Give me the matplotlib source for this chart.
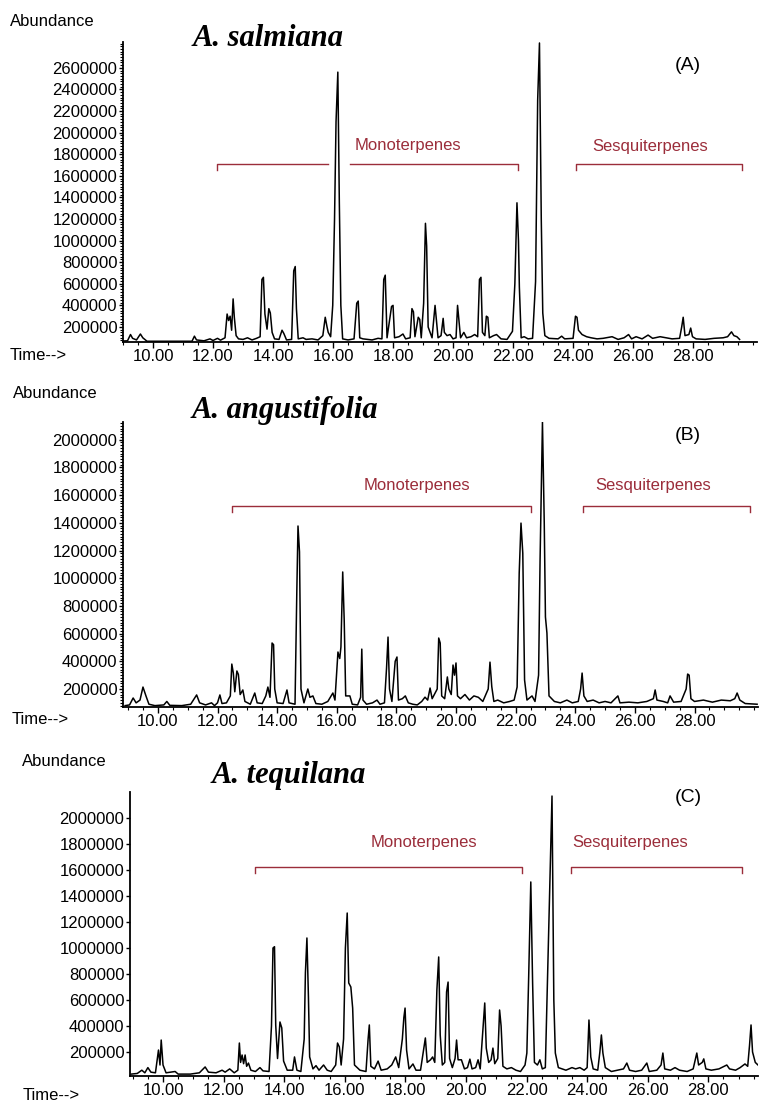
import matplotlib
matplotlib.use("Agg")
import matplotlib.pyplot as plt
from matplotlib.ticker import FixedLocator, MultipleLocator, FormatStrFormatter

plt.rcParams['font.family'] = ['Liberation Sans', 'DejaVu Sans']

# chromatogram traces: (retention time in min, abundance)
trace_a = [
    (8.97, 70000), (9.15, 72000), (9.25, 130000), (9.32, 95000), (9.45, 80000), (9.58, 135000),
    (9.66, 100000), (9.8, 68000), (11.3, 68000), (11.38, 115000), (11.45, 80000), (11.7, 72000),
    (11.9, 90000), (12.0, 75000), (12.15, 95000), (12.25, 78000), (12.4, 100000), (12.47, 320000),
    (12.52, 260000), (12.57, 300000), (12.62, 170000), (12.67, 460000), (12.71, 290000),
    (12.77, 120000), (12.85, 90000), (13.0, 85000), (13.15, 100000), (13.3, 80000), (13.45, 95000),
    (13.57, 110000), (13.63, 640000), (13.68, 660000), (13.73, 320000), (13.8, 180000),
    (13.86, 370000), (13.91, 330000), (13.97, 150000), (14.05, 90000), (14.2, 85000),
    (14.3, 170000), (14.36, 140000), (14.45, 80000), (14.62, 85000), (14.69, 720000),
    (14.74, 760000), (14.78, 370000), (14.84, 90000), (15.0, 100000), (15.1, 85000), (15.3, 90000),
    (15.5, 80000), (15.66, 120000), (15.74, 290000), (15.8, 200000), (15.84, 150000), (15.92, 110000),
    (15.99, 400000), (16.05, 1200000), (16.1, 2100000), (16.16, 2560000), (16.21, 1350000),
    (16.26, 400000), (16.32, 90000), (16.5, 80000), (16.7, 90000), (16.79, 420000), (16.84, 440000),
    (16.89, 100000), (17.0, 90000), (17.3, 80000), (17.5, 95000), (17.63, 90000), (17.69, 640000),
    (17.74, 680000), (17.8, 100000), (17.95, 390000), (18.0, 400000), (18.05, 100000),
    (18.2, 110000), (18.33, 135000), (18.42, 90000), (18.57, 100000), (18.63, 370000),
    (18.68, 340000), (18.73, 110000), (18.84, 290000), (18.89, 270000), (18.94, 100000),
    (19.02, 420000), (19.08, 1160000), (19.12, 950000), (19.17, 200000), (19.3, 100000),
    (19.4, 400000), (19.45, 250000), (19.5, 100000), (19.6, 120000), (19.67, 280000),
    (19.71, 150000), (19.8, 120000), (19.9, 130000), (20.0, 90000), (20.1, 100000), (20.15, 400000),
    (20.2, 250000), (20.25, 100000), (20.36, 150000), (20.45, 100000), (20.6, 110000),
    (20.72, 130000), (20.82, 110000), (20.88, 640000), (20.93, 660000), (20.98, 150000),
    (21.06, 120000), (21.11, 300000), (21.16, 290000), (21.21, 100000), (21.35, 120000),
    (21.45, 130000), (21.6, 90000), (21.8, 85000), (21.98, 160000), (22.06, 600000),
    (22.13, 1350000), (22.18, 1000000), (22.21, 570000), (22.27, 100000), (22.37, 110000),
    (22.5, 90000), (22.65, 95000), (22.75, 620000), (22.82, 2300000), (22.88, 2830000),
    (22.94, 1200000), (22.99, 330000), (23.06, 120000), (23.2, 95000), (23.5, 90000),
    (23.62, 115000), (23.72, 90000), (24.0, 95000), (24.08, 300000), (24.13, 290000),
    (24.18, 170000), (24.3, 130000), (24.45, 110000), (24.6, 100000), (24.8, 90000), (25.0, 95000),
    (25.3, 110000), (25.5, 85000), (25.7, 100000), (25.85, 130000), (25.95, 90000), (26.1, 110000),
    (26.3, 90000), (26.5, 125000), (26.65, 95000), (26.9, 110000), (27.1, 100000), (27.3, 90000),
    (27.55, 95000), (27.62, 200000), (27.67, 290000), (27.73, 120000), (27.86, 130000),
    (27.92, 190000), (27.98, 110000), (28.1, 90000), (28.4, 85000), (28.7, 95000), (29.0, 100000),
    (29.15, 110000), (29.28, 155000), (29.36, 120000), (29.46, 110000), (29.55, 85000),
]

trace_b = [
    (8.9, 80000), (9.05, 85000), (9.17, 135000), (9.27, 100000), (9.4, 120000), (9.5, 214000),
    (9.6, 150000), (9.7, 90000), (9.9, 80000), (10.2, 85000), (10.3, 110000), (10.4, 82000),
    (10.8, 80000), (11.1, 90000), (11.3, 157000), (11.4, 100000), (11.6, 85000), (11.8, 100000),
    (11.9, 80000), (12.0, 100000), (12.08, 157000), (12.15, 95000), (12.3, 100000),
    (12.43, 150000), (12.48, 380000), (12.53, 316000), (12.58, 180000), (12.65, 330000),
    (12.7, 305000), (12.76, 160000), (12.85, 193000), (12.92, 110000), (13.1, 90000),
    (13.25, 171000), (13.33, 100000), (13.5, 95000), (13.62, 150000), (13.69, 214000),
    (13.76, 140000), (13.83, 532000), (13.88, 520000), (13.92, 200000), (14.0, 100000),
    (14.2, 95000), (14.33, 193000), (14.4, 100000), (14.6, 90000), (14.66, 900000),
    (14.7, 1377000), (14.75, 1190000), (14.8, 200000), (14.9, 100000), (15.03, 200000),
    (15.1, 140000), (15.2, 150000), (15.3, 95000), (15.5, 90000), (15.7, 110000), (15.87, 171000),
    (15.94, 120000), (16.04, 467000), (16.1, 420000), (16.14, 503000), (16.2, 1045000),
    (16.25, 698000), (16.3, 150000), (16.44, 150000), (16.52, 90000), (16.7, 85000),
    (16.8, 140000), (16.84, 488000), (16.88, 120000), (17.0, 90000), (17.2, 100000),
    (17.35, 120000), (17.45, 90000), (17.6, 100000), (17.67, 350000), (17.72, 575000),
    (17.77, 200000), (17.85, 110000), (17.96, 400000), (18.02, 431000), (18.07, 120000),
    (18.2, 130000), (18.3, 150000), (18.4, 100000), (18.55, 90000), (18.7, 85000),
    (18.85, 110000), (18.96, 141000), (19.05, 120000), (19.13, 207000), (19.2, 130000),
    (19.37, 200000), (19.42, 568000), (19.47, 532000), (19.52, 150000), (19.62, 130000),
    (19.71, 287000), (19.76, 200000), (19.84, 160000), (19.9, 373000), (19.95, 300000),
    (20.0, 388000), (20.05, 150000), (20.15, 130000), (20.3, 160000), (20.45, 120000),
    (20.6, 150000), (20.75, 140000), (20.9, 110000), (21.08, 200000), (21.14, 394000),
    (21.2, 217000), (21.27, 110000), (21.4, 120000), (21.6, 100000), (21.8, 110000),
    (21.95, 120000), (22.05, 214000), (22.12, 1037000), (22.18, 1398000), (22.24, 1181000),
    (22.3, 265000), (22.38, 120000), (22.55, 150000), (22.65, 110000), (22.77, 300000),
    (22.82, 1131000), (22.9, 2128000), (22.96, 1400000), (23.0, 720000), (23.05, 604000),
    (23.12, 150000), (23.3, 110000), (23.5, 100000), (23.72, 120000), (23.9, 100000),
    (24.1, 110000), (24.18, 200000), (24.23, 315000), (24.29, 150000), (24.4, 110000),
    (24.6, 120000), (24.8, 100000), (25.0, 110000), (25.2, 100000), (25.43, 150000),
    (25.5, 100000), (25.8, 105000), (26.1, 100000), (26.4, 110000), (26.62, 130000),
    (26.68, 193000), (26.74, 120000), (26.95, 110000), (27.1, 100000), (27.18, 150000),
    (27.3, 105000), (27.55, 110000), (27.72, 200000), (27.77, 308000), (27.82, 300000),
    (27.88, 130000), (28.0, 110000), (28.3, 120000), (28.6, 105000), (28.9, 120000),
    (29.2, 115000), (29.35, 130000), (29.43, 171000), (29.52, 120000), (29.7, 95000),
    (30.1, 90000),
]

trace_c = [
    (8.95, 30000), (9.15, 35000), (9.3, 60000), (9.4, 40000), (9.5, 80000), (9.6, 45000),
    (9.75, 40000), (9.85, 215000), (9.9, 100000), (9.94, 292000), (10.0, 100000), (10.1, 40000),
    (10.4, 50000), (10.5, 30000), (10.9, 30000), (11.2, 40000), (11.39, 85000), (11.5, 45000),
    (11.75, 40000), (11.95, 60000), (12.05, 45000), (12.2, 70000), (12.35, 40000), (12.47, 60000),
    (12.52, 269000), (12.56, 120000), (12.61, 177000), (12.66, 110000), (12.71, 177000),
    (12.76, 90000), (12.82, 115000), (12.9, 60000), (13.05, 50000), (13.2, 80000), (13.3, 55000),
    (13.5, 50000), (13.58, 400000), (13.63, 1000000), (13.68, 1010000), (13.72, 408000),
    (13.78, 150000), (13.86, 431000), (13.92, 385000), (13.98, 130000), (14.1, 60000),
    (14.28, 60000), (14.34, 162000), (14.42, 60000), (14.55, 50000), (14.66, 300000),
    (14.7, 808000), (14.75, 1077000), (14.8, 623000), (14.84, 162000), (14.95, 70000),
    (15.05, 95000), (15.15, 60000), (15.3, 100000), (15.42, 60000), (15.55, 50000),
    (15.7, 100000), (15.76, 269000), (15.82, 239000), (15.88, 100000), (15.96, 300000),
    (16.02, 1000000), (16.08, 1269000), (16.13, 731000), (16.2, 700000), (16.26, 538000),
    (16.32, 100000), (16.5, 60000), (16.7, 50000), (16.77, 300000), (16.81, 408000),
    (16.86, 90000), (16.98, 70000), (17.1, 130000), (17.2, 60000), (17.4, 70000), (17.55, 100000),
    (17.68, 162000), (17.78, 80000), (17.9, 300000), (17.95, 465000), (17.99, 538000),
    (18.04, 215000), (18.12, 70000), (18.25, 108000), (18.35, 60000), (18.5, 60000),
    (18.6, 215000), (18.66, 308000), (18.72, 120000), (18.83, 140000), (18.9, 162000),
    (18.97, 120000), (19.04, 677000), (19.1, 931000), (19.15, 331000), (19.22, 100000),
    (19.3, 120000), (19.36, 662000), (19.41, 738000), (19.46, 150000), (19.55, 80000),
    (19.64, 150000), (19.69, 292000), (19.74, 140000), (19.85, 140000), (19.95, 70000),
    (20.05, 80000), (20.13, 145000), (20.2, 70000), (20.32, 80000), (20.4, 140000),
    (20.47, 70000), (20.56, 370000), (20.62, 577000), (20.67, 230000), (20.75, 120000),
    (20.83, 140000), (20.89, 230000), (20.95, 110000), (21.05, 150000), (21.11, 523000),
    (21.16, 400000), (21.22, 90000), (21.35, 70000), (21.5, 80000), (21.65, 60000),
    (21.8, 50000), (21.95, 100000), (22.01, 192000), (22.07, 777000), (22.14, 1508000),
    (22.2, 731000), (22.26, 120000), (22.36, 100000), (22.44, 140000), (22.52, 70000),
    (22.62, 80000), (22.7, 831000), (22.77, 1500000), (22.84, 2169000), (22.9, 600000),
    (22.95, 192000), (23.05, 80000), (23.3, 60000), (23.5, 80000), (23.62, 70000), (23.76, 80000),
    (23.9, 60000), (24.0, 80000), (24.06, 446000), (24.12, 162000), (24.2, 70000), (24.35, 60000),
    (24.42, 200000), (24.47, 331000), (24.52, 192000), (24.6, 80000), (24.8, 50000),
    (25.0, 60000), (25.2, 70000), (25.31, 115000), (25.4, 60000), (25.6, 50000), (25.8, 60000),
    (25.97, 115000), (26.05, 50000), (26.3, 60000), (26.44, 100000), (26.5, 192000),
    (26.56, 70000), (26.75, 60000), (26.9, 80000), (27.05, 60000), (27.3, 50000), (27.5, 70000),
    (27.62, 192000), (27.68, 100000), (27.8, 120000), (27.85, 147000), (27.92, 70000),
    (28.1, 60000), (28.35, 70000), (28.61, 100000), (28.7, 70000), (28.9, 60000), (29.05, 80000),
    (29.21, 108000), (29.3, 90000), (29.36, 250000), (29.41, 408000), (29.46, 200000),
    (29.55, 120000), (29.64, 100000),
]

titles = ['A. salmiana', 'A. angustifolia', 'A. tequilana']
panel_tags = ['(A)', '(B)', '(C)']
x_ticks = [10, 12, 14, 16, 18, 20, 22, 24, 26, 28]
y_ticks_a = [200000, 400000, 600000, 800000, 1000000, 1200000, 1400000, 1600000,
             1800000, 2000000, 2200000, 2400000, 2600000]
y_ticks_bc = [200000, 400000, 600000, 800000, 1000000, 1200000, 1400000, 1600000,
              1800000, 2000000]
# bracket ranges (min) and height per panel
mono_a = [(12.13, 15.83), (16.57, 22.17)]
sesq_a = (24.1, 29.63)
mono_b = [(12.47, 22.53)]
sesq_b = (24.26, 29.86)
mono_c = [(13.04, 21.85)]
sesq_c = (23.47, 29.11)

W, H = 760, 1102
red = '#9b2d3a'
fig = plt.figure(figsize=(W / 100, H / 100), dpi=100)


def fx(px):
    return px / W


def fy(py):
    return 1 - py / H


panels = [
    # left, top, right, bottom (px), xlim, ylim, trace, yticks, minor
    dict(box=(123, 42, 757, 342), xlim=(9.0, 30.13), ylim=(61000, 2839000), trace=trace_a,
         yticks=y_ticks_a, minor=25000, mono=mono_a, sesq=sesq_a, br_y=1709000,
         mono_txt=(18.48, 1885000), sesq_txt=(26.57, 1867000),
         title=(193, 38), tag=(688, 65), abund=(10, 21), time=(10, 356)),
    dict(box=(123, 422, 758, 707), xlim=(8.83, 30.13), ylim=(70000, 2128000), trace=trace_b,
         yticks=y_ticks_bc, minor=20000, mono=mono_b, sesq=sesq_b, br_y=1521000,
         mono_txt=(18.69, 1666000), sesq_txt=(26.61, 1666000),
         title=(192, 410), tag=(688, 435), abund=(13, 393), time=(12, 719)),
    dict(box=(130, 792, 758, 1076), xlim=(8.91, 29.64), ylim=(15400, 2200000), trace=trace_c,
         yticks=y_ticks_bc, minor=None, mono=mono_c, sesq=sesq_c, br_y=1623000,
         mono_txt=(18.6, 1808000), sesq_txt=(25.43, 1808000),
         title=(212, 775), tag=(688, 798), abund=(22, 762), time=(23, 1095)),
]

for i, p in enumerate(panels):
    l, t, r, b = p['box']
    ax = fig.add_axes([fx(l), fy(b), (r - l) / W, (b - t) / H])
    tt, yy = zip(*p['trace'])
    ax.plot(tt, yy, color='black', lw=1.1)
    ax.set_xlim(*p['xlim'])
    ax.set_ylim(*p['ylim'])

    for s in ['top', 'right']:
        ax.spines[s].set_visible(False)
    ax.spines['left'].set_linewidth(1.3)
    ax.spines['bottom'].set_linewidth(1.3)

    ax.xaxis.set_major_locator(FixedLocator(x_ticks))
    ax.xaxis.set_major_formatter(FormatStrFormatter('%.2f'))
    ax.xaxis.set_minor_locator(MultipleLocator(0.5))
    ax.yaxis.set_major_locator(FixedLocator(p['yticks']))
    ax.yaxis.set_major_formatter(FormatStrFormatter('%d'))
    if p['minor']:
        ax.yaxis.set_minor_locator(MultipleLocator(p['minor']))
    else:
        ax.yaxis.set_minor_locator(FixedLocator([]))
    ax.tick_params(axis='both', which='major', labelsize=12, width=1, length=4, pad=1)
    ax.tick_params(axis='y', which='major', length=3)
    ax.tick_params(axis='both', which='minor', width=0.8, length=2)

    # brackets
    dy = (p['ylim'][1] - p['ylim'][0]) * 6 / (b - t)
    y0 = p['br_y']
    for j, (s0, s1) in enumerate(p['mono']):
        xs = [s0, s1]
        ys = [y0, y0]
        if j == 0:
            xs = [s0] + xs
            ys = [y0 - dy] + ys
        if j == len(p['mono']) - 1:
            xs = xs + [s1]
            ys = ys + [y0 - dy]
        ax.plot(xs, ys, color=red, lw=1)
    s0, s1 = p['sesq']
    ax.plot([s0, s0, s1, s1], [y0 - dy, y0, y0, y0 - dy], color=red, lw=1)
    ax.text(*p['mono_txt'], 'Monoterpenes', color=red, fontsize=12, ha='center', va='center')
    ax.text(*p['sesq_txt'], 'Sesquiterpenes', color=red, fontsize=12, ha='center', va='center')

    fig.text(fx(p['title'][0]), fy(p['title'][1]), titles[i], family='Liberation Serif',
             fontsize=22, fontweight='bold', fontstyle='italic', ha='left', va='center')
    fig.text(fx(p['tag'][0]), fy(p['tag'][1]), panel_tags[i], fontsize=14,
             ha='center', va='center')
    fig.text(fx(p['abund'][0]), fy(p['abund'][1]), 'Abundance', fontsize=12,
             ha='left', va='center')
    fig.text(fx(p['time'][0]), fy(p['time'][1]), 'Time-->', fontsize=12,
             ha='left', va='center')

fig.savefig('out.png', dpi=100)
